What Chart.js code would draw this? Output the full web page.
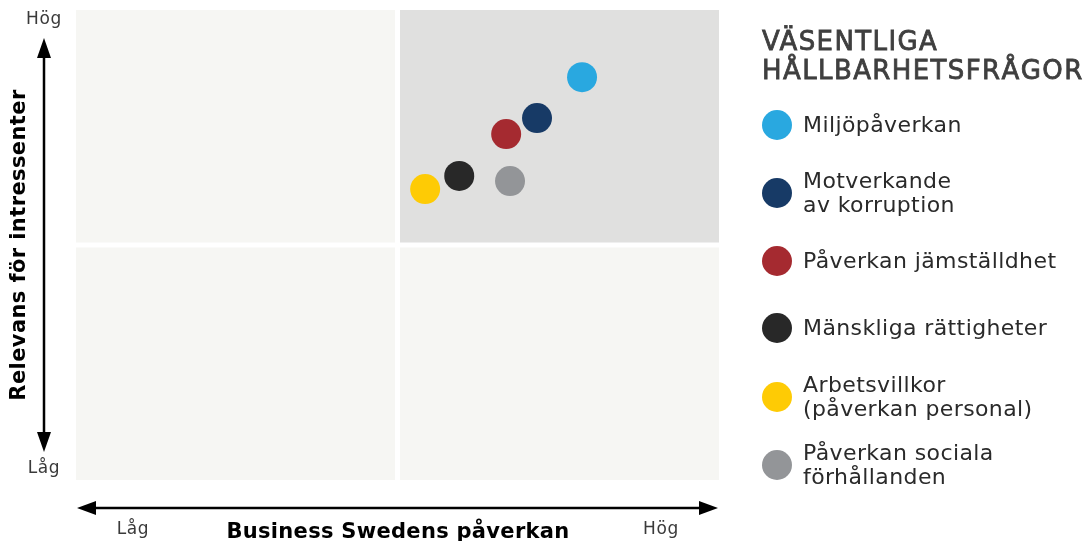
<!DOCTYPE html>
<html><head><meta charset="utf-8">
<script src="https://cdn.jsdelivr.net/npm/chart.js@4"></script>
<style>
html,body{margin:0;padding:0;background:#fff;}
#wrap{position:relative;width:1089px;height:541px;overflow:hidden;}
#c{position:absolute;left:0;top:0;}
#legend{position:absolute;left:762px;top:0;font-family:"DejaVu Sans",sans-serif;color:#333;}
#legend h2{position:absolute;top:27px;left:0;margin:0;font-size:26px;font-weight:normal;letter-spacing:1.4px;line-height:29px;color:#3f3f3f;-webkit-text-stroke:0.8px #3f3f3f;white-space:nowrap;}
.item{position:absolute;left:0;display:flex;align-items:center;white-space:nowrap;transform:translateY(-50%);}
.dot{width:30px;height:30px;border-radius:50%;margin-right:11px;flex:none;}
.lbl{font-size:22px;line-height:24px;font-weight:normal;letter-spacing:0.4px;color:#2a2a2a;}
</style></head>
<body><div id="wrap"><canvas id="c" width="1089" height="541"></canvas><div id="legend"></div></div>
<script>
const issues = ["Miljöpåverkan","Motverkande\nav korruption","Påverkan jämställdhet","Mänskliga rättigheter","Arbetsvillkor\n(påverkan personal)","Påverkan sociala\nförhållanden"];
const colors = ["#29a8e0","#173a66","#a52a30","#282828","#fecb05","#939598"];
const impactX = [7.87, 7.17, 6.69, 5.96, 5.43, 6.75];
const relevanceY = [8.57, 7.70, 7.36, 6.47, 6.19, 6.36];
const legendTitle = ["VÄSENTLIGA","HÅLLBARHETSFRÅGOR"];
const axisLabels = {low:"Låg", high:"Hög", x:"Business Swedens påverkan", y:"Relevans för intressenter"};
const legendCenters = [125, 193, 261, 328, 397, 465];

// legend
const lg = document.getElementById('legend');
lg.innerHTML = '<h2>' + legendTitle.join('<br>') + '</h2>';
issues.forEach((n,i)=>{
  const d=document.createElement('div'); d.className='item';
  d.style.top=legendCenters[i]+'px';
  d.innerHTML='<div class="dot" style="background:'+colors[i]+'"></div><div class="lbl">'+n.replace('\n','<br>')+'</div>';
  lg.appendChild(d);
});

const quadPlugin = {
  id:'quad',
  beforeDatasetsDraw(chart){
    const {ctx, scales:{x,y}} = chart;
    const gap = 2.5;
    const x0=x.getPixelForValue(0), x1=x.getPixelForValue(10), xm=x.getPixelForValue(5);
    const y0=y.getPixelForValue(0), y1=y.getPixelForValue(10), ym=y.getPixelForValue(5);
    ctx.save();
    ctx.fillStyle='#f6f6f3';
    ctx.fillRect(x0,y1,xm-gap-x0,ym-gap-y1);
    ctx.fillRect(x0,ym+gap,xm-gap-x0,y0-ym-gap);
    ctx.fillRect(xm+gap,ym+gap,x1-xm-gap,y0-ym-gap);
    ctx.fillStyle='#e0e0df';
    ctx.fillRect(xm+gap,y1,x1-xm-gap,ym-gap-y1);
    ctx.restore();
  },
  afterDraw(chart){
    const {ctx, chartArea:a} = chart;
    ctx.save();
    ctx.strokeStyle='#000'; ctx.fillStyle='#000'; ctx.lineWidth=2.5;
    // vertical arrow
    const vx = 44;
    ctx.beginPath(); ctx.moveTo(vx,a.top+40); ctx.lineTo(vx,a.bottom-40); ctx.stroke();
    ctx.beginPath(); ctx.moveTo(vx,a.top+28); ctx.lineTo(vx-7,a.top+48); ctx.lineTo(vx+7,a.top+48); ctx.closePath(); ctx.fill();
    ctx.beginPath(); ctx.moveTo(vx,a.bottom-28); ctx.lineTo(vx-7,a.bottom-48); ctx.lineTo(vx+7,a.bottom-48); ctx.closePath(); ctx.fill();
    // horizontal arrow
    const hy = a.bottom+28;
    ctx.beginPath(); ctx.moveTo(a.left+12,hy); ctx.lineTo(a.right-12,hy); ctx.stroke();
    ctx.beginPath(); ctx.moveTo(a.left+1,hy); ctx.lineTo(a.left+20,hy-7); ctx.lineTo(a.left+20,hy+7); ctx.closePath(); ctx.fill();
    ctx.beginPath(); ctx.moveTo(a.right-1,hy); ctx.lineTo(a.right-20,hy-7); ctx.lineTo(a.right-20,hy+7); ctx.closePath(); ctx.fill();
    // low/high labels
    ctx.fillStyle='#3a3a3a'; ctx.font='17px "DejaVu Sans"'; ctx.textAlign='center'; ctx.textBaseline='middle';
    ctx.letterSpacing='0.6px';
    ctx.fillText(axisLabels.high, vx, 20);
    ctx.fillText(axisLabels.low, vx, 469);
    ctx.fillText(axisLabels.low, 133, 530);
    ctx.fillText(axisLabels.high, 661, 530);
    // titles
    ctx.fillStyle='#000'; ctx.font='bold 21px "DejaVu Sans"';
    ctx.letterSpacing='0.3px';
    ctx.fillText(axisLabels.x, 398, 533);
    ctx.letterSpacing='0.4px';
    ctx.save(); ctx.translate(20, 245); ctx.rotate(-Math.PI/2);
    ctx.fillText(axisLabels.y, 0, 0); ctx.restore();
    ctx.restore();
  }
};

new Chart(document.getElementById('c'), {
  type:'scatter',
  data:{ datasets: issues.map((n,i)=>({
    label:n, data:[{x:impactX[i], y:relevanceY[i]}],
    backgroundColor:colors[i], borderWidth:0, pointRadius:15, pointHoverRadius:15
  }))},
  options:{
    responsive:false, animation:false,
    layout:{autoPadding:false, padding:{left:76,right:370,top:10,bottom:61}},
    plugins:{legend:{display:false}, tooltip:{enabled:false}},
    scales:{
      x:{display:false,min:0,max:10},
      y:{display:false,min:0,max:10}
    }
  },
  plugins:[quadPlugin]
});
</script></body></html>
